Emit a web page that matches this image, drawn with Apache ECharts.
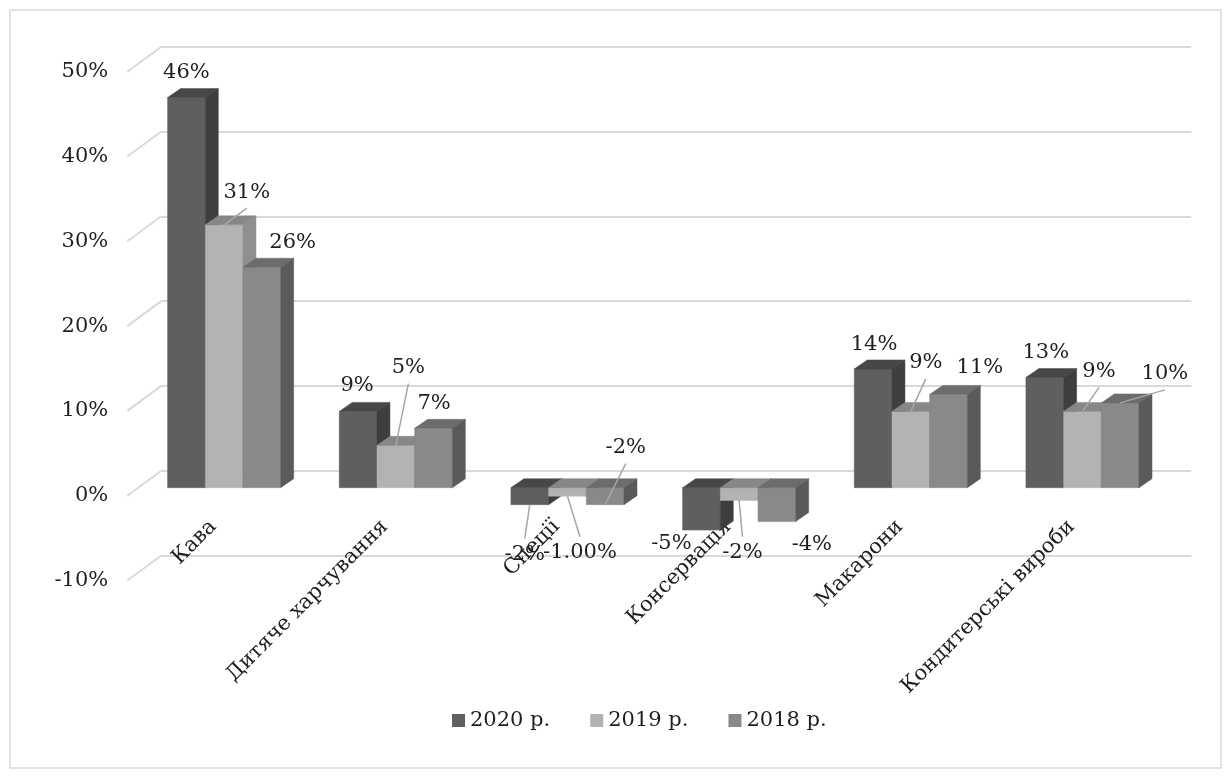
<!DOCTYPE html>
<html><head><meta charset="utf-8">
<script src="https://cdn.jsdelivr.net/npm/echarts@6/dist/echarts.min.js"></script>
<style>html,body{margin:0;padding:0;background:#fff}#c{width:1231px;height:778px}</style>
</head><body><div id="c"></div>
<script>
// ---- data ----
const categories = ['Кава', 'Дитяче харчування', 'Спеції', 'Консервація', 'Макарони', 'Кондитерські вироби'];
const seriesNames = ['2020 р.', '2019 р.', '2018 р.'];
const values2020 = [46, 9, -2, -5, 14, 13];
const values2019 = [31, 5, -1, -1.5, 9, 9];
const values2018 = [26, 7, -2, -4, 11, 10];
const labels2020 = ['46%', '9%', '-2%', '-5%', '14%', '13%'];
const labels2019 = ['31%', '5%', '-1.00%', '-2%', '9%', '9%'];
const labels2018 = ['26%', '7%', '-2%', '-4%', '11%', '10%'];
const yTicks = [-10, 0, 10, 20, 30, 40, 50];

// ---- layout / style ----
const FONT = 'DejaVu Serif';
const FS = 21;
const TEXT = '#1f1f1f';
const GRIDC = '#d9d9d9';
const BAR_SHIFT = [11, -8];
const DEPTH = [13, -9];
const BACK_SHIFT = [34, -25];
const BAR_FRAC = 0.2196;
const faceColors = [
  {front: '#5f5f5f', top: '#474747', side: '#3e3e3e'},
  {front: '#b3b3b3', top: '#878787', side: '#8f8f8f'},
  {front: '#898989', top: '#6c6c6c', side: '#5a5a5a'}
];
const labelOffsets = [
  [[0, -25.5], [-1, -26], [-5, 50], [-30, 13], [1, -24], [1, -25]],
  [[22.7, -32.6], [12.6, -77.6], [12.5, 56.5], [3.3, 52.3], [15, -48.5], [16.5, -40]],
  [[30.8, -24.2], [0.6, -24.6], [20.6, -57], [35, 23], [31.4, -26.5], [44.7, -29]]
];
const leaderFlags = [
  [0, 0, 1, 0, 0, 0],
  [1, 1, 1, 1, 1, 1],
  [0, 0, 1, 0, 0, 1]
];

const allValues = [values2020, values2019, values2018];
const allLabels = [labels2020, labels2019, labels2018];

function barGeom(api, catIdx, val, sIdx) {
  const c = api.coord([catIdx, val]);
  const z = api.coord([catIdx, 0]);
  const band = api.size([1, 0])[0];
  const bw = band * BAR_FRAC;
  const x0 = c[0] - 1.5 * bw + sIdx * bw + BAR_SHIFT[0];
  const yv = c[1] + BAR_SHIFT[1], y0 = z[1] + BAR_SHIFT[1];
  return {x0: x0, x1: x0 + bw, yt: Math.min(yv, y0), yb: Math.max(yv, y0), yEnd: yv, cx: x0 + bw / 2};
}

function makeBarSeries(k) {
  return {
    type: 'custom',
    name: seriesNames[k],
    xAxisIndex: 0, yAxisIndex: 0,
    itemStyle: {color: faceColors[k].front},
    encode: {x: 0, y: 1},
    data: categories.map((_, i) => [i, allValues[k][i]]),
    z: 3,
    renderItem: function (params, api) {
      const i = api.value(0), v = api.value(1);
      const g = barGeom(api, i, v, k);
      const fc = faceColors[k];
      const dx = DEPTH[0], dy = DEPTH[1];
      return {
        type: 'group',
        children: [
          {type: 'rect', shape: {x: g.x0, y: g.yt, width: g.x1 - g.x0, height: g.yb - g.yt},
           style: {fill: fc.front, stroke: fc.front, lineWidth: 0.5}},
          {type: 'polygon', shape: {points: [[g.x0, g.yt], [g.x1, g.yt], [g.x1 + dx, g.yt + dy], [g.x0 + dx, g.yt + dy]]},
           style: {fill: fc.top, stroke: fc.top, lineWidth: 0.5}},
          {type: 'polygon', shape: {points: [[g.x1, g.yt], [g.x1 + dx, g.yt + dy], [g.x1 + dx, g.yb + dy], [g.x1, g.yb]]},
           style: {fill: fc.side, stroke: fc.side, lineWidth: 0.5}}
        ]
      };
    }
  };
}

const labelData = [];
for (let k = 0; k < 3; k++) for (let i = 0; i < categories.length; i++) labelData.push([i, allValues[k][i], k]);

const option = {
  animation: false,
  backgroundColor: '#ffffff',
  graphic: [{
    type: 'rect', silent: true, z: -10,
    shape: {x: 10, y: 10, width: 1211, height: 758},
    style: {fill: 'none', stroke: GRIDC, lineWidth: 1.5}
  }],
  legend: {
    data: seriesNames,
    left: 447, top: 705,
    itemWidth: 13, itemHeight: 13, itemGap: 40,
    icon: 'rect',
    textStyle: {fontFamily: FONT, fontSize: FS, color: TEXT}
  },
  grid: [
    {left: 127.3, top: 71.7, width: 1030, height: 508.8},
    {left: 127.3 + BACK_SHIFT[0], top: 71.7 + BACK_SHIFT[1], width: 1030, height: 508.8}
  ],
  xAxis: [
    {type: 'category', gridIndex: 0, data: categories,
     axisLine: {show: false},
     axisTick: {show: false},
     axisLabel: {rotate: 45, interval: 0, margin: -57, fontFamily: FONT, fontSize: FS, color: TEXT},
     splitLine: {show: false}},
    {type: 'value', gridIndex: 1, min: 0, max: 1, show: false}
  ],
  yAxis: [
    {type: 'value', gridIndex: 0, min: -10, max: 50, interval: 10,
     axisLine: {show: false}, axisTick: {show: false}, splitLine: {show: false},
     axisLabel: {formatter: '{value}%', margin: 19, fontFamily: FONT, fontSize: FS, color: TEXT}},
    {type: 'value', gridIndex: 1, min: -10, max: 50, interval: 10,
     axisLine: {show: false}, axisTick: {show: false}, axisLabel: {show: false},
     splitLine: {show: true, lineStyle: {color: GRIDC, width: 2}}}
  ],
  series: [
    {
      type: 'custom', name: 'ticks', silent: true, z: 1,
      xAxisIndex: 0, yAxisIndex: 0,
      encode: {x: 0, y: 1},
      data: yTicks.map(t => [0, t]),
      renderItem: function (params, api) {
        const p = api.coord([0, api.value(1)]);
        const x = params.coordSys.x;
        return {type: 'line', shape: {x1: x, y1: p[1], x2: x + BACK_SHIFT[0], y2: p[1] + BACK_SHIFT[1]},
                style: {stroke: GRIDC, lineWidth: 2}};
      }
    },
    makeBarSeries(0), makeBarSeries(1), makeBarSeries(2),
    {
      type: 'custom', name: 'labels', silent: true, z: 10,
      xAxisIndex: 0, yAxisIndex: 0,
      encode: {x: 0, y: 1},
      data: labelData,
      renderItem: function (params, api) {
        const i = api.value(0), v = api.value(1), k = api.value(2);
        const g = barGeom(api, i, v, k);
        const off = labelOffsets[k][i];
        const lx = g.cx + off[0], ly = g.yEnd + off[1];
        const children = [];
        if (leaderFlags[k][i]) {
          const sy = ly + (off[1] < 0 ? 16 : -16);
          children.push({type: 'line', shape: {x1: lx, y1: sy, x2: g.cx, y2: g.yEnd},
                         style: {stroke: '#a6a6a6', lineWidth: 1.5}});
        }
        children.push({type: 'text', x: lx, y: ly,
          style: {text: allLabels[k][i], fontFamily: FONT, fontSize: FS, fill: TEXT,
                  align: 'center', verticalAlign: 'middle'}});
        return {type: 'group', children: children};
      }
    }
  ]
};

const chart = echarts.init(document.getElementById('c'), null, {renderer: 'canvas'});
chart.setOption(option);
</script>
</body></html>
